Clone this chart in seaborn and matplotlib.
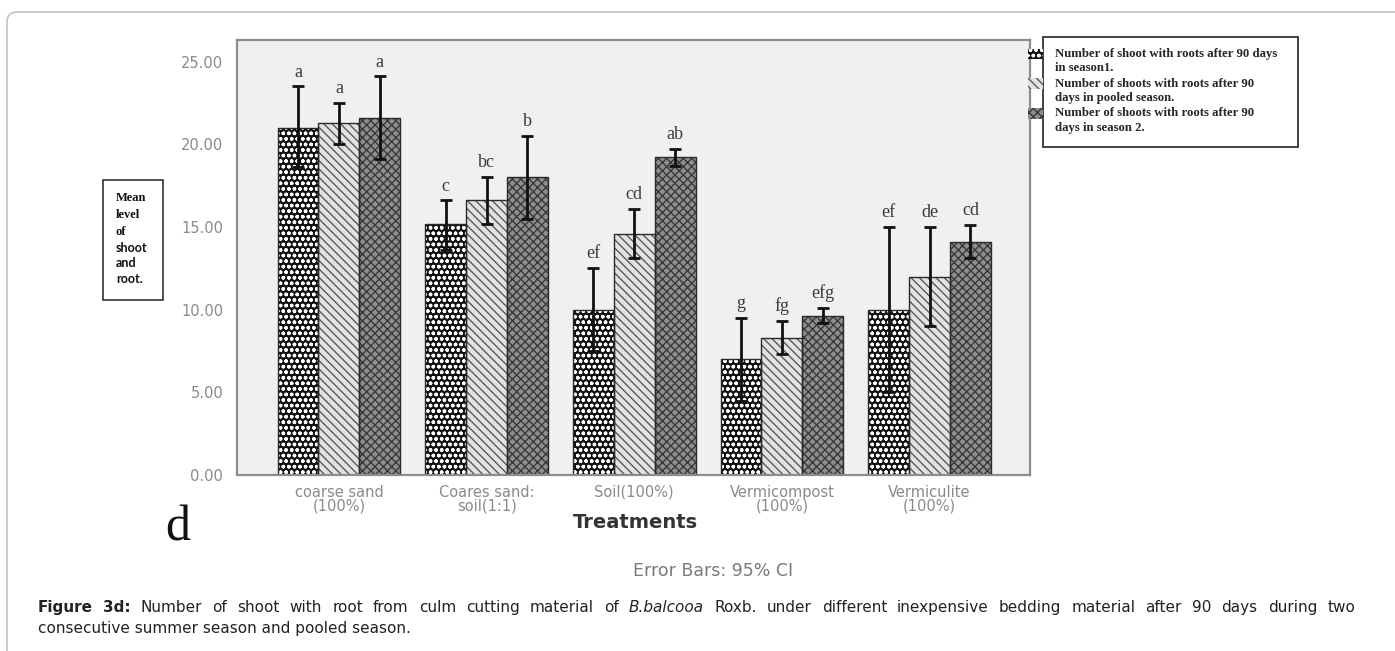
import numpy as np
import pandas as pd
import matplotlib
matplotlib.use("Agg")
import matplotlib.pyplot as plt
import seaborn as sns
from matplotlib.patches import Rectangle, FancyBboxPatch
from matplotlib import font_manager as fm

# ---------------- data ----------------
treatments = ["coarse sand\n(100%)", "Coares sand:\nsoil(1:1)", "Soil(100%)",
              "Vermicompost\n(100%)", "Vermiculite\n(100%)"]
series = ["Number of shoot with roots after 90 days\nin season1.",
          "Number of shoots with roots after 90\ndays in pooled season.",
          "Number of shoots with roots after 90\ndays in season 2."]
season1_mean = [21.0, 15.2, 10.0, 7.0, 10.0]
season1_low = [18.6, 13.6, 7.5, 4.5, 5.0]
season1_high = [23.5, 16.6, 12.5, 9.5, 15.0]
pooled_mean = [21.3, 16.6, 14.6, 8.3, 12.0]
pooled_low = [20.0, 15.2, 13.1, 7.3, 9.0]
pooled_high = [22.5, 18.0, 16.1, 9.3, 15.0]
season2_mean = [21.6, 18.0, 19.2, 9.6, 14.1]
season2_low = [19.1, 15.5, 18.7, 9.2, 13.1]
season2_high = [24.1, 20.5, 19.7, 10.1, 15.1]
season1_letters = ["a", "c", "ef", "g", "ef"]
pooled_letters = ["a", "bc", "cd", "fg", "de"]
season2_letters = ["a", "b", "ab", "efg", "cd"]
yticks = [0, 5, 10, 15, 20, 25]

means = [season1_mean, pooled_mean, season2_mean]
lows = [season1_low, pooled_low, season2_low]
highs = [season1_high, pooled_high, season2_high]
letters = [season1_letters, pooled_letters, season2_letters]

df = pd.DataFrame({
    "Treatment": treatments * 3,
    "Series": [s for s in series for _ in treatments],
    "Mean": season1_mean + pooled_mean + season2_mean,
})

serif = "Liberation Serif"

sns.set_style("white")
plt.rcParams["font.family"] = ["DejaVu Sans"]
plt.rcParams["hatch.linewidth"] = 1.0

W, H = 1395, 651
fig = plt.figure(figsize=(W / 100, H / 100), dpi=100)
fig.patch.set_facecolor("white")

# outer rounded frame
frame = FancyBboxPatch((0.07, -1.0), 16.0, (H - 12) / 100 + 1.0,
                       boxstyle="round,pad=0,rounding_size=0.1",
                       transform=fig.dpi_scale_trans, fill=False,
                       edgecolor="#c4c4c4", linewidth=1.2)
fig.patches.append(frame)

ax = fig.add_axes([237 / W, 1 - 475 / H, (1030 - 237) / W, (475 - 40) / H])
ax.set_facecolor("#f0f0f0")

sns.barplot(data=df, x="Treatment", y="Mean", hue="Series", order=treatments,
            hue_order=series, errorbar=None, width=0.83, ax=ax, legend=False,
            palette=["#111111", "#d9d9d9", "#8a8a8a"], saturation=1)

styles = [
    dict(face="#121212", hatchc="#ffffff", hatch="ooo"),
    dict(face="#e2e2e2", hatchc="#5a5a5a", hatch="\\\\\\\\"),
    dict(face="#8e8e8e", hatchc="#3a3a3a", hatch="xxxx"),
]
for cont, st in zip(ax.containers, styles):
    for p in cont:
        p.set_facecolor(st["face"])
        p.set_edgecolor(st["hatchc"])
        p.set_hatch(st["hatch"])
        p.set_linewidth(0)
        ax.add_patch(Rectangle((p.get_x(), p.get_y()), p.get_width(), p.get_height(),
                               fill=False, edgecolor="#2a2a2a", linewidth=1.0,
                               zorder=p.get_zorder() + 0.1))

# error bars and letters
for cont, m, lo, hi, let in zip(ax.containers, means, lows, highs, letters):
    xs = [p.get_x() + p.get_width() / 2 for p in cont]
    m = np.array(m); lo = np.array(lo); hi = np.array(hi)
    ax.errorbar(xs, m, yerr=[m - lo, hi - m], fmt="none", ecolor="#111111",
                elinewidth=2.0, capsize=4, capthick=2.0, zorder=5)
    for x, h, t in zip(xs, hi, let):
        ax.text(x, h + 0.35, t, ha="center", va="bottom", fontfamily=serif,
                fontsize=13, color="#3a3a3a")

ax.set_xlim(-0.69, 4.68)
ax.set_ylim(0, 26.3)
ax.set_yticks(yticks)
ax.set_yticklabels([f"{v:.2f}" for v in yticks])
ax.set_xlabel("")
ax.set_ylabel("")
for s in ax.spines.values():
    s.set_color("#8c8c8c")
    s.set_linewidth(1.6)
ax.tick_params(axis="y", direction="out", length=6, width=1.4, color="#8c8c8c",
               labelsize=10.5, labelcolor="#8a8a8a", pad=4)
ax.tick_params(axis="x", direction="out", length=6, width=1.4, color="#6c6c6c",
               labelsize=10.5, labelcolor="#8a8a8a", pad=1)
for lab in ax.get_xticklabels():
    lab.set_linespacing(0.9)

# legend (handles outside a separate box, like the reference)
handles = [cont[0] for cont in ax.containers]
leg = fig.legend(handles, series, loc="upper left",
                 bbox_to_anchor=(1028 / W, 1 - 48 / H), frameon=False,
                 prop=fm.FontProperties(family=serif, weight="bold", size=9.2),
                 handlelength=1.15, handleheight=0.9, handletextpad=1.0,
                 labelspacing=0.26, borderpad=0, borderaxespad=0)
for t in leg.get_texts():
    t.set_linespacing(1.26)
for h in leg.legend_handles:
    h.set_y(h.get_y() + 5.3)
    h.set_linewidth(0)
fig.patches.append(Rectangle((1043 / W, 1 - 147 / H), (1298 - 1043) / W, (147 - 37) / H,
                             transform=fig.transFigure, fill=False,
                             edgecolor="#222222", linewidth=1.2))

# y-axis label box
fig.patches.append(Rectangle((103 / W, 1 - 300 / H), (163 - 103) / W, (300 - 180) / H,
                             transform=fig.transFigure, fill=False,
                             edgecolor="#222222", linewidth=1.1))
ylab_lines = ["Mean", "level", "of", "shoot", "and", "root."]
ylab_y = [198, 215, 232, 248, 263, 279]
for i, (t, yy) in enumerate(zip(ylab_lines, ylab_y)):
    fam = serif if i < 3 else "Lato"
    fig.text(116 / W, 1 - yy / H, t, fontfamily=fam, fontweight="bold",
             fontsize=9, ha="left", va="center", color="#111111")

# x-axis title etc.
fig.text(635 / W, 1 - 523 / H, "Treatments", ha="center", va="center",
         fontsize=14, fontweight="bold", color="#333333")
fig.text(178 / W, 1 - 528 / H, "d", ha="center", va="center", fontfamily=serif,
         fontsize=36, color="#111111")
fig.text(713 / W, 1 - 571 / H, "Error Bars: 95% CI", ha="center", va="center",
         fontsize=12.5, color="#7a7a7a")

# caption (justified first line)
renderer = fig.canvas.get_renderer()
cap_words = ([("Figure", "bold"), ("3d:", "bold")] +
             [(w, "normal") for w in "Number of shoot with root from culm cutting material of".split()] +
             [("B.balcooa", "italic")] +
             [(w, "normal") for w in "Roxb. under different inexpensive bedding material after 90 days during two".split()])
x_left, x_right = 38, 1355
y1, y2 = 612, 633
cap_fs = 11.0
texts = []
for w, st in cap_words:
    kw = dict(fontfamily="DejaVu Sans", fontsize=cap_fs, color="#222222", va="baseline", ha="left")
    if st == "bold":
        kw["fontweight"] = "bold"
    if st == "italic":
        kw["fontstyle"] = "italic"
    texts.append(fig.text(0, 1 - y1 / H, w, **kw))
widths = [t.get_window_extent(renderer).width for t in texts]
gap = (x_right - x_left - sum(widths)) / (len(texts) - 1)
while gap < 4.0 and cap_fs > 8:
    cap_fs -= 0.25
    for t in texts:
        t.set_fontsize(cap_fs)
    widths = [t.get_window_extent(renderer).width for t in texts]
    gap = (x_right - x_left - sum(widths)) / (len(texts) - 1)
xpos = x_left
for t, wd in zip(texts, widths):
    t.set_x(xpos / W)
    xpos += wd + gap
fig.text(x_left / W, 1 - y2 / H, "consecutive summer season and pooled season.",
         fontfamily="DejaVu Sans", fontsize=cap_fs, color="#222222", va="baseline", ha="left")

fig.savefig("out.png", dpi=100)
